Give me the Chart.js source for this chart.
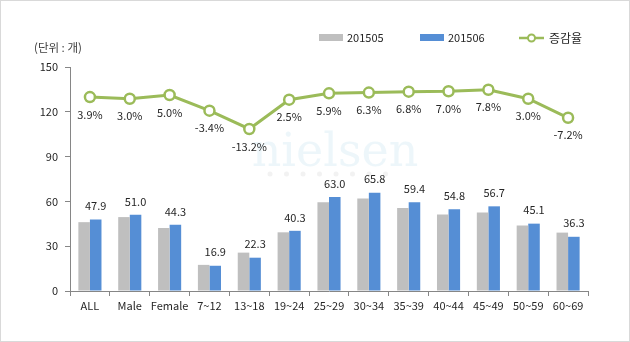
<!DOCTYPE html>
<html>
<head>
<meta charset="utf-8">
<script src="https://cdn.jsdelivr.net/npm/chart.js@4"></script>
<style>
  html, body { margin: 0; padding: 0; background: #fff; }
  #wrap { width: 628px; height: 340px; border: 1px solid #d9d9d9; position: relative; }
  canvas { display: block; }
</style>
</head>
<body>
<div id="wrap"><canvas id="c" width="628" height="340"></canvas></div>
<script>
const categories = ['ALL', 'Male', 'Female', '7~12', '13~18', '19~24', '25~29', '30~34', '35~39', '40~44', '45~49', '50~59', '60~69'];
const may2015 = [46.1, 49.5, 42.2, 17.5, 25.7, 39.3, 59.5, 61.9, 55.6, 51.2, 52.6, 43.8, 39.1];
const jun2015 = [47.9, 51.0, 44.3, 16.9, 22.3, 40.3, 63.0, 65.8, 59.4, 54.8, 56.7, 45.1, 36.3];
const changeRate = [3.9, 3.0, 5.0, -3.4, -13.2, 2.5, 5.9, 6.3, 6.8, 7.0, 7.8, 3.0, -7.2];
const yTicks = [0, 30, 60, 90, 120, 150];

const FONT = "'Noto Sans CJK KR', 'Noto Sans', sans-serif";
const TEXT = '#262626';

// value labels + legend + unit text, drawn by hand
const extras = {
  id: 'extras',
  beforeDatasetsDraw(chart) {
    const ctx = chart.ctx;
    ctx.save();
    // faint watermark
    ctx.globalAlpha = 0.16;
    ctx.fillStyle = '#8fc6e0';
    ctx.font = "46px 'DejaVu Serif', serif";
    ctx.textAlign = 'center';
    ctx.textBaseline = 'alphabetic';
    ctx.fillText('nielsen', 334, 165);
    ctx.fillStyle = '#b0b0b0';
    for (let i = 0; i < 8; i++) {
      ctx.beginPath();
      ctx.arc(269 + i * 16.5, 173, 2.5, 0, Math.PI * 2);
      ctx.fill();
    }
    ctx.restore();
  },
  afterDatasetsDraw(chart) {
    const ctx = chart.ctx;
    ctx.save();
    ctx.fillStyle = TEXT;
    ctx.font = '11px ' + FONT;
    ctx.textAlign = 'center';
    ctx.textBaseline = 'bottom';
    chart.getDatasetMeta(1).data.forEach((el, i) => {
      ctx.fillText(jun2015[i].toFixed(1), el.x, el.y - 8);
    });
    ctx.textBaseline = 'top';
    chart.getDatasetMeta(2).data.forEach((el, i) => {
      ctx.fillText(changeRate[i].toFixed(1) + '%', el.x, el.y + 12);
    });

    // unit
    ctx.textAlign = 'left';
    ctx.textBaseline = 'middle';
    ctx.fillStyle = '#404040';
    ctx.font = '11.5px ' + FONT;
    ctx.fillText('(단위 : 개)', 33, 47);

    // legend
    ctx.font = '11px ' + FONT;
    const ds = chart.data.datasets;
    ctx.fillStyle = ds[0].backgroundColor;
    ctx.fillRect(318, 33, 24, 7);
    ctx.fillStyle = TEXT;
    ctx.fillText(ds[0].label, 346, 37);
    ctx.fillStyle = ds[1].backgroundColor;
    ctx.fillRect(419, 33, 24, 7);
    ctx.fillStyle = TEXT;
    ctx.fillText(ds[1].label, 447, 37);
    ctx.strokeStyle = ds[2].borderColor;
    ctx.lineWidth = 2.5;
    ctx.beginPath();
    ctx.moveTo(518, 37);
    ctx.lineTo(543, 37);
    ctx.stroke();
    ctx.fillStyle = '#fff';
    ctx.lineWidth = 2;
    ctx.beginPath();
    ctx.arc(530.5, 37, 3.5, 0, Math.PI * 2);
    ctx.fill();
    ctx.stroke();
    ctx.fillStyle = TEXT;
    ctx.font = '12px ' + FONT;
    ctx.fillText(ds[2].label, 548, 37);
    ctx.restore();
  }
};

new Chart(document.getElementById('c'), {
  data: {
    labels: categories,
    datasets: [
      {
        type: 'bar',
        label: '201505',
        data: may2015,
        backgroundColor: '#bfbfbf',
        categoryPercentage: 0.58,
        barPercentage: 1.0,
        yAxisID: 'y',
        order: 2
      },
      {
        type: 'bar',
        label: '201506',
        data: jun2015,
        backgroundColor: '#558ed5',
        categoryPercentage: 0.58,
        barPercentage: 1.0,
        yAxisID: 'y',
        order: 2
      },
      {
        type: 'line',
        label: '증감율',
        data: changeRate,
        borderColor: '#9bbb59',
        borderWidth: 3,
        pointRadius: 5,
        pointBorderWidth: 2.5,
        pointBackgroundColor: '#fff',
        pointBorderColor: '#9bbb59',
        tension: 0,
        yAxisID: 'y2',
        order: 0
      }
    ]
  },
  options: {
    responsive: false,
    animation: false,
    layout: { padding: { left: 0, right: 41, top: 66, bottom: 0 } },
    plugins: {
      legend: { display: false },
      tooltip: { enabled: false }
    },
    scales: {
      x: {
        offset: true,
        grid: { offset: true, drawOnChartArea: false, tickLength: 5, color: '#868686' },
        border: { color: '#868686' },
        ticks: { color: TEXT, font: { family: FONT, size: 11 }, padding: 3, maxRotation: 0, autoSkip: false },
        afterFit(scale) { scale.height = 50; }
      },
      y: {
        min: 0,
        max: 150,
        afterBuildTicks(scale) { scale.ticks = yTicks.map(v => ({ value: v })); },
        grid: { drawOnChartArea: false, tickLength: 5, color: '#868686' },
        border: { color: '#868686' },
        ticks: { color: TEXT, font: { family: FONT, size: 11 }, padding: 7 },
        afterFit(scale) { scale.width = 69; }
      },
      y2: {
        display: false,
        min: -100,
        max: 20
      }
    }
  },
  plugins: [extras]
});
</script>
</body>
</html>
